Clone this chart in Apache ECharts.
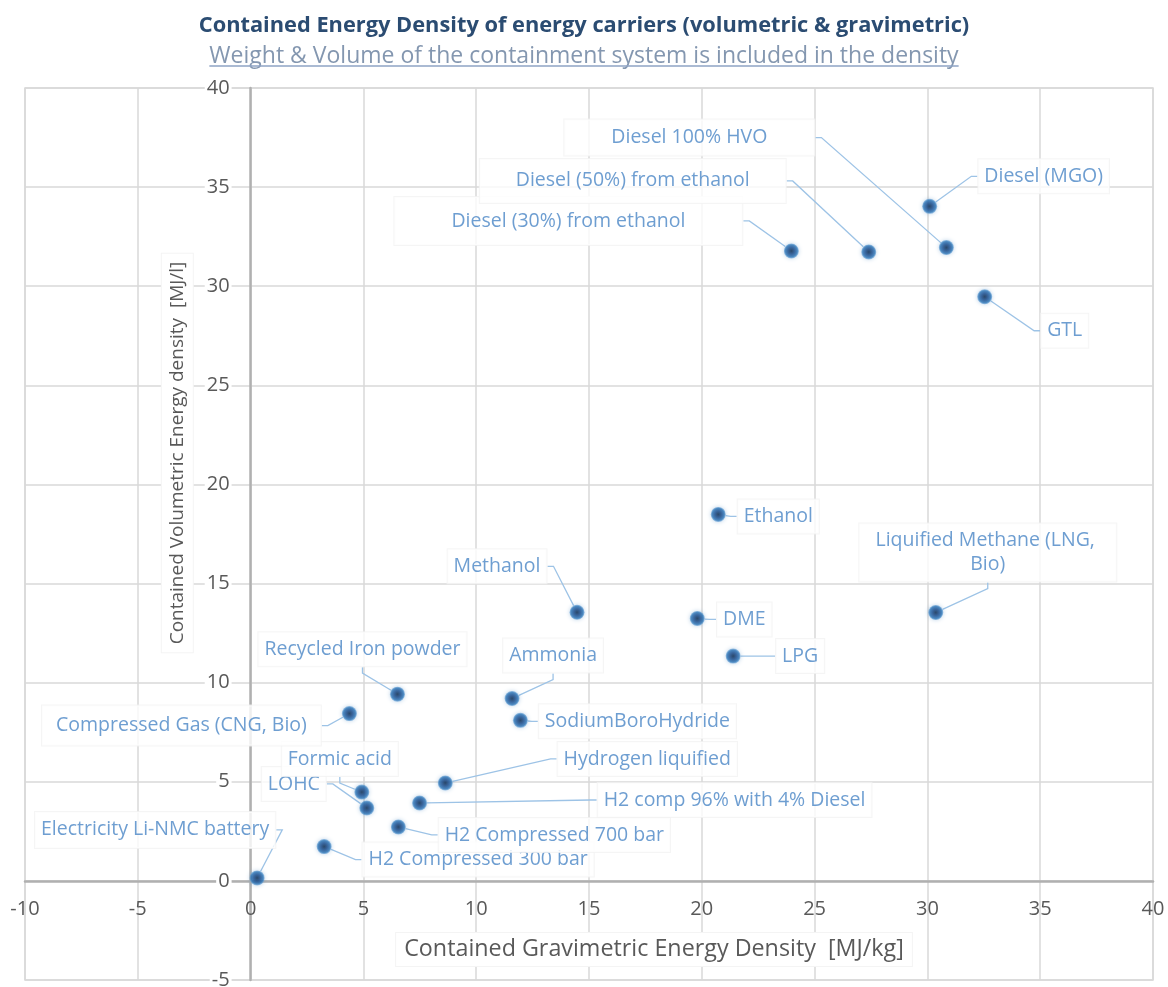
<!DOCTYPE html>
<html><head><meta charset="utf-8">
<script src="https://cdn.jsdelivr.net/npm/echarts@6/dist/echarts.min.js"></script>
<style>html,body{margin:0;padding:0;background:#fff}#chart{width:1168px;height:987px}</style>
</head><body><div id="chart"></div>
<script>
// ---------------- DATA ----------------
const carriers = [
  'Electricity Li-NMC battery',
  'H2 Compressed 300 bar',
  'H2 Compressed 700 bar',
  'LOHC',
  'Formic acid',
  'Hydrogen liquified',
  'H2 comp 96% with 4% Diesel',
  'Compressed Gas (CNG, Bio)',
  'Recycled Iron powder',
  'Ammonia',
  'SodiumBoroHydride',
  'Methanol',
  'DME',
  'LPG',
  'Ethanol',
  'Liquified Methane (LNG, Bio)',
  'Diesel (30%) from ethanol',
  'Diesel (50%) from ethanol',
  'Diesel 100% HVO',
  'Diesel (MGO)',
  'GTL'
];
const gravimetric = [0.29, 3.26, 6.55, 5.15, 4.93, 8.63, 7.49, 4.38, 6.51, 11.59, 11.96, 14.47, 19.8, 21.39, 20.73, 30.37, 23.97, 27.4, 30.84, 30.1, 32.54];
const volumetric  = [0.15, 1.73, 2.72, 3.68, 4.48, 4.94, 3.93, 8.44, 9.42, 9.2, 8.1, 13.55, 13.24, 11.34, 18.49, 13.54, 31.78, 31.73, 31.95, 34.03, 29.47];
const xTickValues = [-10, -5, 0, 5, 10, 15, 20, 25, 30, 35, 40];
const yTickValues = [-5, 0, 5, 10, 15, 20, 25, 30, 35, 40];

const titleText = 'Contained Energy Density of energy carriers (volumetric & gravimetric)';
const subtitleText = 'Weight & Volume of the containment system is included in the density';
const xName = 'Contained Gravimetric Energy Density  [MJ/kg]';
const yName = 'Contained Volumetric Energy density  [MJ/l]';

// ---------------- LAYOUT (label placement, not data) ----------------
const labelOffsets = [[-102,-48],[154,13],[156,8],[-73,-24],[-22,-33],[202,-24],[315,-3],[-168,12],[-35,-45],[41,-43],[117,1],[-80,-46],[47,1],[67,0],[60,2],[52,-60],[-223,-30],[-236,-71],[-257,-110],[114,-30],[80,34]];
const labelPadding = {0:[6,6],7:[8,14],16:[12,57],17:[10,36],18:[6,47]};
const labelWrapWidth = {15: 245};

const FONT = '"Open Sans", "DejaVu Sans", sans-serif';
const labelColor = '#4a86c6';
const SUB_SIZE = 23;

const chart = echarts.init(document.getElementById('chart'), null, {renderer: 'canvas'});

const seriesData = carriers.map((n, i) => {
  const item = {name: n, value: [gravimetric[i], volumetric[i]]};
  const lbl = {padding: labelPadding[i] || [5, 6]};
  if (labelWrapWidth[i]) { lbl.width = labelWrapWidth[i]; lbl.overflow = 'break'; lbl.align = 'center'; }
  item.label = lbl;
  return item;
});

// underline for subtitle
const cv = document.createElement('canvas').getContext('2d');
cv.font = SUB_SIZE + 'px "Open Sans"';
const subW = cv.measureText(subtitleText).width;

const option = {
  animation: false,
  backgroundColor: '#ffffff',
  title: [
    {text: titleText, left: 'center', top: 10,
     textStyle: {fontFamily: FONT, fontSize: 21.8, fontWeight: 'bold', color: '#2b4c72'}},
    {text: subtitleText, left: 'center', top: 40,
     textStyle: {fontFamily: FONT, fontSize: SUB_SIZE, fontWeight: 'normal', color: '#8497b0'}}
  ],
  graphic: [{
    type: 'line', z: 10,
    shape: {x1: 584 - subW / 2, y1: 66, x2: 584 + subW / 2, y2: 66},
    style: {stroke: '#8ea3c4', lineWidth: 1.5}
  }],
  grid: {left: 25, right: 15, top: 88, bottom: 7, containLabel: false, outerBoundsMode: 'none',
         show: true, borderColor: '#d9d9d9', borderWidth: 1.5},
  xAxis: {
    type: 'value',
    min: xTickValues[0], max: xTickValues[xTickValues.length - 1],
    interval: xTickValues[1] - xTickValues[0],
    axisLine: {show: true, onZero: false, lineStyle: {color: '#b0b0b0', width: 2.5}},
    axisTick: {show: false},
    splitLine: {show: true, lineStyle: {color: '#d9d9d9', width: 1.5}},
    axisLabel: {fontFamily: FONT, fontSize: 20, color: '#595959', margin: 18, showMinLabel: true, showMaxLabel: true},
    name: '{t|' + xName + '}',
    nameLocation: 'middle', nameGap: 52,
    nameTextStyle: {padding: [0, 0, 0, 130], rich: {t: {fontFamily: FONT, fontSize: 23.3, color: '#595959', backgroundColor: '#fff', padding: [5, 8], borderColor: '#f4f4f4', borderWidth: 1}}}
  },
  yAxis: {
    type: 'value',
    min: yTickValues[0], max: yTickValues[yTickValues.length - 1],
    interval: yTickValues[1] - yTickValues[0],
    axisLine: {show: true, onZero: false, lineStyle: {color: '#b0b0b0', width: 2.5}},
    axisTick: {show: false},
    splitLine: {show: true, lineStyle: {color: '#d9d9d9', width: 1.5}},
    axisLabel: {fontFamily: FONT, fontSize: 20, color: '#595959', margin: 19, backgroundColor: '#fff', padding: [0, 2], showMinLabel: true, showMaxLabel: true},
    name: '{t|' + yName + '}',
    nameLocation: 'middle', nameGap: 51,
    nameTextStyle: {padding: [0, 0, 0, 162], rich: {t: {fontFamily: FONT, fontSize: 19, color: '#595959', backgroundColor: '#fff', padding: [6, 8], borderColor: '#f4f4f4', borderWidth: 1}}}
  },
  series: [{
    type: 'scatter',
    data: seriesData,
    symbol: 'circle',
    symbolSize: 15,
    itemStyle: {
      color: {type: 'radial', x: 0.5, y: 0.5, r: 0.5, colorStops: [
        {offset: 0, color: '#0d2a4e'}, {offset: 0.45, color: '#1e4f8e'},
        {offset: 0.8, color: '#2e75b6'}, {offset: 1, color: 'rgba(91,155,213,0.7)'}]},
      shadowBlur: 4, shadowColor: 'rgba(46,117,182,0.55)'
    },
    label: {
      show: true, position: 'inside',
      formatter: p => p.name,
      fontFamily: FONT, fontSize: 19.5, color: labelColor, lineHeight: 24,
      textBorderWidth: 0, textShadowBlur: 0,
      backgroundColor: '#ffffff', borderColor: '#f2f2f2', borderWidth: 1
    },
    labelLine: {show: true, length2: 6, smooth: false, lineStyle: {color: '#9dc3e6', width: 1.3}},
    labelLayout: p => ({dx: labelOffsets[p.dataIndex][0], dy: labelOffsets[p.dataIndex][1]}),
    emphasis: {disabled: true}
  }]
};
chart.setOption(option);

// move both axes (line, labels, name) onto the zero of the other axis
const x0 = chart.convertToPixel({xAxisIndex: 0}, 0);
const xMinPx = chart.convertToPixel({xAxisIndex: 0}, xTickValues[0]);
const y0 = chart.convertToPixel({yAxisIndex: 0}, 0);
const yMinPx = chart.convertToPixel({yAxisIndex: 0}, yTickValues[0]);
chart.setOption({xAxis: {offset: y0 - yMinPx}, yAxis: {offset: xMinPx - x0}});
</script>
</body></html>
